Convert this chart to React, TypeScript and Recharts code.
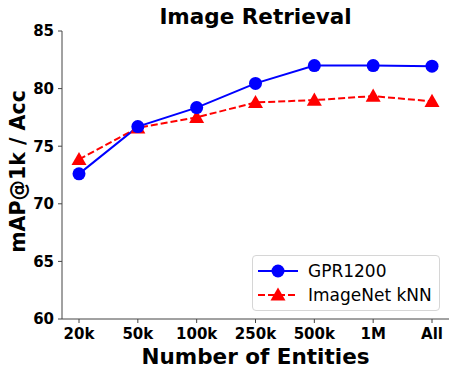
import { Line, LineChart, XAxis, YAxis } from 'recharts';

const entities = ['20k', '50k', '100k', '250k', '500k', '1M', 'All'];
const gpr1200 = [72.6, 76.7, 78.35, 80.45, 82.0, 82.0, 81.95];
const imagenetKnn = [73.85, 76.6, 77.5, 78.8, 79.0, 79.35, 78.9];
const yTicks = [60, 65, 70, 75, 80, 85];

const data = entities.map((name, i) => ({
  name,
  gpr: gpr1200[i],
  knn: imagenetKnn[i],
}));

const FONT = 'DejaVu Sans';

const Triangle = (props: any) => {
  const { cx, cy, index } = props;
  if (cx == null || cy == null) return null;
  const s = 7.5;
  return (
    <polygon
      key={`t-${index}`}
      points={`${cx},${cy - s} ${cx - s},${cy + s * 0.75} ${cx + s},${cy + s * 0.75}`}
      fill="#ff0000"
    />
  );
};

const legendItems = [
  { label: 'GPR1200', color: '#0000ff', dash: undefined, tri: false },
  { label: 'ImageNet kNN', color: '#ff0000', dash: '7 3', tri: true },
];

const LegendBox = () => (
  <div
    style={{
      position: 'absolute',
      left: 252,
      top: 255,
      width: 188,
      height: 56,
      border: '1px solid #d6d6d6',
      borderRadius: 4,
      background: 'rgba(255,255,255,0.8)',
      fontFamily: FONT,
      fontSize: 17,
      color: '#000',
      boxSizing: 'border-box',
      paddingTop: 3,
      whiteSpace: 'nowrap',
    }}
  >
    {legendItems.map((item) => (
      <div key={item.label} style={{ display: 'flex', alignItems: 'center', height: 24 }}>
        <svg width={44} height={20} style={{ marginLeft: 4 }}>
          <line x1={1} y1={10} x2={41} y2={10} stroke={item.color} strokeWidth={2} strokeDasharray={item.dash} />
          {item.tri ? (
            <polygon points="21,2.5 13.5,15.6 28.5,15.6" fill={item.color} />
          ) : (
            <circle cx={21} cy={10} r={6.5} fill={item.color} />
          )}
        </svg>
        <span style={{ marginLeft: 7 }}>{item.label}</span>
      </div>
    ))}
  </div>
);

export default function App() {
  return (
    <div style={{ position: 'absolute', left: 0, top: 0, width: 457, height: 375, background: '#fff' }}>
      <LineChart
        width={457}
        height={375}
        data={data}
        margin={{ top: 31, right: 8, left: 0, bottom: 0 }}
      >
        <text
          x={255.5}
          y={24}
          textAnchor="middle"
          fontFamily={FONT}
          fontWeight="bold"
          fontSize={21.5}
          fill="#000"
        >
          Image Retrieval
        </text>
        <text
          x={25}
          y={171.5}
          transform="rotate(-90 25 171.5)"
          textAnchor="middle"
          fontFamily={FONT}
          fontWeight="bold"
          fontSize={20.5}
          fill="#000"
        >
          mAP@1k / Acc
        </text>
        <XAxis
          dataKey="name"
          height={56}
          padding={{ left: 17, right: 17 }}
          interval={0}
          tickSize={4}
          tickMargin={5}
          axisLine={{ stroke: '#444' }}
          tickLine={{ stroke: '#444' }}
          tick={{ fill: '#000', fontFamily: FONT, fontWeight: 'bold', fontSize: 15 }}
          label={{
            value: 'Number of Entities',
            position: 'insideBottom',
            offset: 11,
            fill: '#000',
            fontFamily: FONT,
            fontWeight: 'bold',
            fontSize: 21.5,
          }}
        />
        <YAxis
          width={62}
          domain={[60, 85]}
          ticks={yTicks}
          interval={0}
          tickSize={4}
          tickMargin={4}
          axisLine={{ stroke: '#444' }}
          tickLine={{ stroke: '#444' }}
          tick={{ fill: '#000', fontFamily: FONT, fontWeight: 'bold', fontSize: 15 }}
        />
        <Line
          type="linear"
          dataKey="knn"
          stroke="#ff0000"
          strokeWidth={2}
          strokeDasharray="7 3"
          dot={<Triangle />}
          isAnimationActive={false}
        />
        <Line
          type="linear"
          dataKey="gpr"
          stroke="#0000ff"
          strokeWidth={2}
          dot={{ r: 6.5, fill: '#0000ff', stroke: 'none' }}
          isAnimationActive={false}
        />
      </LineChart>
      <LegendBox />
    </div>
  );
}
